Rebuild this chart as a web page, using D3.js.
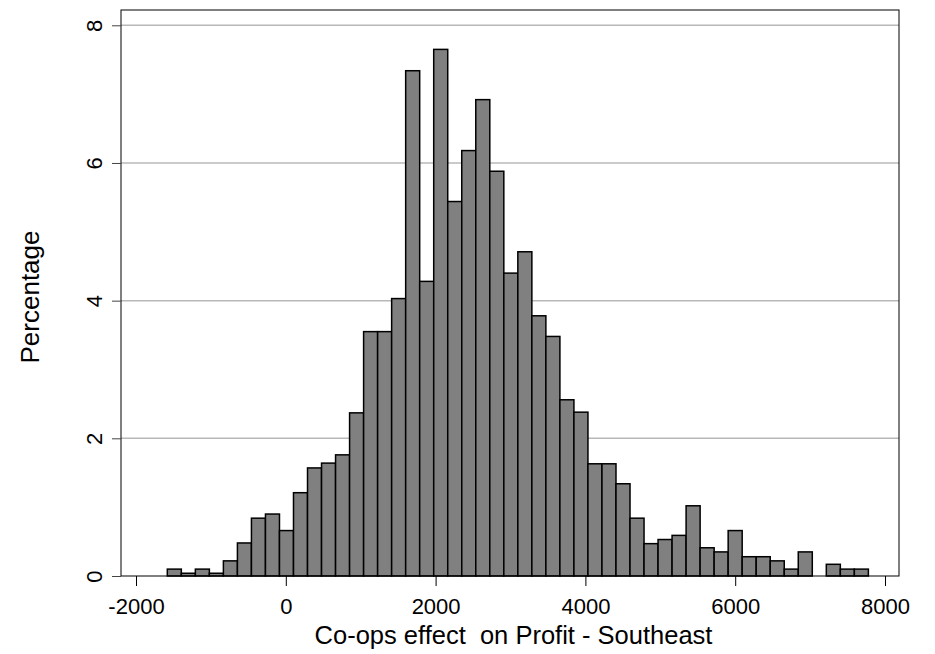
<!DOCTYPE html>
<html>
<head>
<meta charset="utf-8">
<script src="https://cdn.jsdelivr.net/npm/d3@7"></script>
<style>
  body { margin: 0; background: #fff; }
  text { font-family: "Liberation Sans", Arial, sans-serif; fill: #000; }
</style>
</head>
<body>
<div id="chart"></div>
<script>
// histogram: 50 equal bins, percentage of observations per bin
var binStart = -1582;
var binWidth = 187.2;
var percentages = [0.10, 0.04, 0.10, 0.04, 0.22, 0.48, 0.84, 0.90, 0.66, 1.21,
                   1.57, 1.64, 1.76, 2.37, 3.55, 3.55, 4.03, 7.34, 4.28, 7.65,
                   5.44, 6.18, 6.92, 5.88, 4.40, 4.71, 3.78, 3.48, 2.56, 2.38,
                   1.63, 1.63, 1.34, 0.84, 0.47, 0.53, 0.59, 1.02, 0.41, 0.35,
                   0.66, 0.28, 0.28, 0.22, 0.10, 0.35, 0.00, 0.17, 0.10, 0.10];
var xTicks = [-2000, 0, 2000, 4000, 6000, 8000];
var yTicks = [0, 2, 4, 6, 8];
var xTitle = "Co-ops effect\u00a0 on Profit - Southeast";
var yTitle = "Percentage";

var width = 935, height = 654;

// plot frame
var frame = { left: 121, right: 899, top: 10, bottom: 576 };

var svg = d3.select("#chart")
    .append("svg")
    .attr("width", width)
    .attr("height", height);

var x = d3.scaleLinear().domain([-2000, 8000]).range([136, 885]);
var y = d3.scaleLinear().domain([0, 8]).range([576, 25.3]);

var bins = percentages.map(function(p, i) {
  return { x0: binStart + i * binWidth, x1: binStart + (i + 1) * binWidth, value: p };
});

// gridlines
svg.append("g")
    .selectAll("line")
    .data(yTicks.filter(function(d) { return d > 0; }))
    .enter().append("line")
    .attr("x1", frame.left)
    .attr("x2", frame.right)
    .attr("y1", function(d) { return y(d); })
    .attr("y2", function(d) { return y(d); })
    .attr("stroke", "#b8b8b8")
    .attr("stroke-width", 1.5);

// bars
svg.append("g")
    .selectAll("rect")
    .data(bins.filter(function(d) { return d.value > 0; }))
    .enter().append("rect")
    .attr("x", function(d) { return x(d.x0); })
    .attr("width", function(d) { return x(d.x1) - x(d.x0); })
    .attr("y", function(d) { return y(d.value); })
    .attr("height", function(d) { return y(0) - y(d.value); })
    .attr("fill", "#808080")
    .attr("stroke", "#000")
    .attr("stroke-width", 1.5);

// frame
svg.append("rect")
    .attr("x", frame.left)
    .attr("y", frame.top)
    .attr("width", frame.right - frame.left)
    .attr("height", frame.bottom - frame.top)
    .attr("fill", "none")
    .attr("stroke", "#000")
    .attr("stroke-width", 1);

// x axis
var xAxis = svg.append("g")
    .attr("transform", "translate(0," + frame.bottom + ")")
    .call(d3.axisBottom(x).tickValues(xTicks).tickSize(10).tickPadding(12)
          .tickFormat(function(d) { return String(d); }));
xAxis.select(".domain").remove();
xAxis.selectAll("line").attr("stroke", "#000");
xAxis.selectAll("text")
    .attr("font-size", "22px")
    .attr("font-family", "Liberation Sans, Arial, sans-serif")
    .attr("fill", "#000");

// y axis
var yAxis = svg.append("g")
    .attr("transform", "translate(" + frame.left + ",0)")
    .call(d3.axisLeft(y).tickValues(yTicks).tickSize(9)
          .tickFormat(function(d) { return String(d); }));
yAxis.select(".domain").remove();
yAxis.selectAll("line").attr("stroke", "#444");
yAxis.selectAll("text")
    .attr("font-size", "22px")
    .attr("font-family", "Liberation Sans, Arial, sans-serif")
    .attr("fill", "#000")
    .attr("text-anchor", "middle")
    .attr("dy", 0)
    .attr("x", 0)
    .attr("transform", "translate(-19,0) rotate(-90)");

// titles
svg.append("text")
    .attr("x", x(3000) + 3)
    .attr("y", 644)
    .attr("text-anchor", "middle")
    .attr("font-size", "25.5px")
    .text(xTitle);

svg.append("text")
    .attr("transform", "translate(39,297) rotate(-90)")
    .attr("text-anchor", "middle")
    .attr("font-size", "26px")
    .text(yTitle);
</script>
</body>
</html>
